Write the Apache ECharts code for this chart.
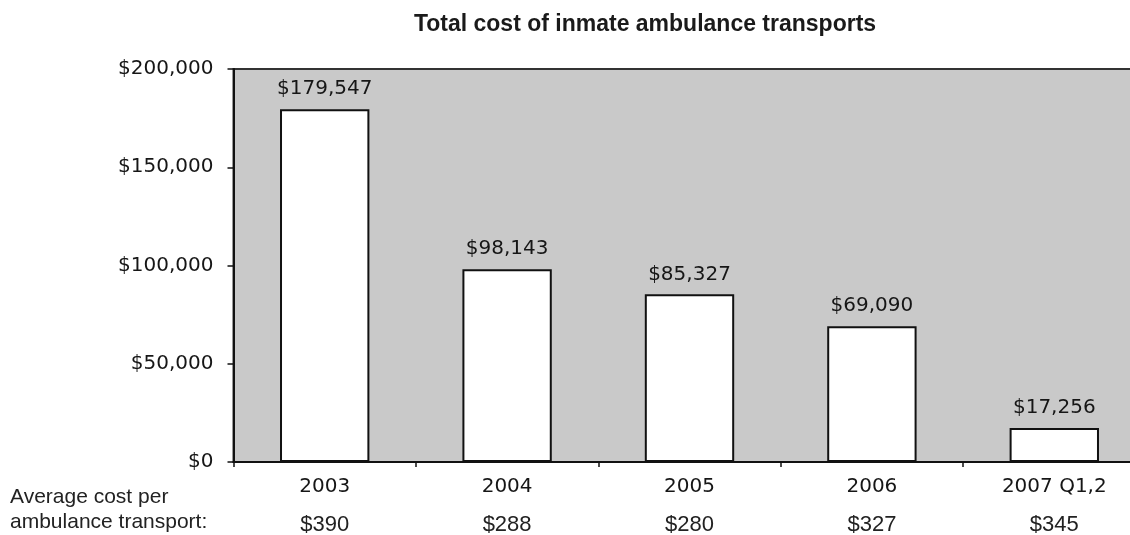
<!DOCTYPE html>
<html>
<head>
<meta charset="utf-8">
<title>Total cost of inmate ambulance transports</title>
<script src="https://cdn.jsdelivr.net/npm/echarts@6/dist/echarts.min.js"></script>
<style>
  html, body { margin: 0; padding: 0; background: #ffffff; overflow: hidden; }
  #chart { width: 1130px; height: 535px; }
</style>
</head>
<body>
<div id="chart"></div>
<script>
// Yearly totals and per-transport averages
const years = ['2003', '2004', '2005', '2006', '2007 Q1,2'];
const totalCost = [179547, 98143, 85327, 69090, 17256];
const avgCost = [390, 288, 280, 327, 345];
const yTicks = [0, 50000, 100000, 150000, 200000];

const money = v => '$' + Number(v).toLocaleString('en-US');
const axisFont = 'DejaVu Sans';

const chart = echarts.init(document.getElementById('chart'), null, { renderer: 'canvas' });

chart.setOption({
  animation: false,
  backgroundColor: '#ffffff',
  title: {
    text: 'Total cost of inmate ambulance transports',
    left: 640,
    top: 8,
    textAlign: 'center',
    textStyle: {
      fontFamily: 'Liberation Sans',
      fontWeight: 'bold',
      fontSize: 23,
      color: '#1a1a1a'
    }
  },
  // plot area runs past the right edge of the canvas
  grid: {
    left: 233.5,
    width: 912,
    top: 69,
    height: 393,
    outerBoundsMode: 'none',
    containLabel: false,
    show: true,
    backgroundColor: '#c9c9c9',
    borderColor: '#333333',
    borderWidth: 2
  },
  xAxis: [
    {
      type: 'category',
      data: years,
      position: 'bottom',
      axisLine: { show: true, lineStyle: { color: '#111111', width: 2 } },
      axisTick: { show: true, length: 5, lineStyle: { color: '#111111', width: 1.5 } },
      axisLabel: {
        margin: 15,
        fontFamily: axisFont,
        fontSize: 20,
        color: '#161616'
      }
    },
    {
      type: 'category',
      data: avgCost.map(money),
      position: 'bottom',
      axisLine: { show: false },
      axisTick: { show: false },
      axisLabel: {
        margin: 52,
        fontFamily: 'Liberation Sans',
        fontSize: 22,
        color: '#222222'
      }
    }
  ],
  yAxis: {
    type: 'value',
    min: yTicks[0],
    max: yTicks[yTicks.length - 1],
    interval: yTicks[1] - yTicks[0],
    axisLine: { show: true, lineStyle: { color: '#111111', width: 2 } },
    axisTick: { show: true, length: 6, lineStyle: { color: '#111111', width: 1.5 } },
    splitLine: { show: false },
    axisLabel: {
      margin: 20,
      fontFamily: axisFont,
      fontSize: 20,
      color: '#161616',
      formatter: money
    }
  },
  graphic: [
    {
      type: 'text',
      left: 10,
      top: 485,
      style: {
        text: 'Average cost per\nambulance transport:',
        fontFamily: 'Liberation Sans',
        fontSize: 21,
        lineHeight: 25,
        fill: '#222222'
      }
    }
  ],
  series: [
    {
      type: 'bar',
      data: totalCost,
      xAxisIndex: 0,
      barWidth: '49%',
      itemStyle: {
        color: '#ffffff',
        borderColor: '#111111',
        borderWidth: 2
      },
      label: {
        show: true,
        position: 'top',
        distance: 10,
        fontFamily: axisFont,
        fontSize: 20,
        color: '#161616',
        formatter: p => money(p.value)
      }
    }
  ]
});
</script>
</body>
</html>
